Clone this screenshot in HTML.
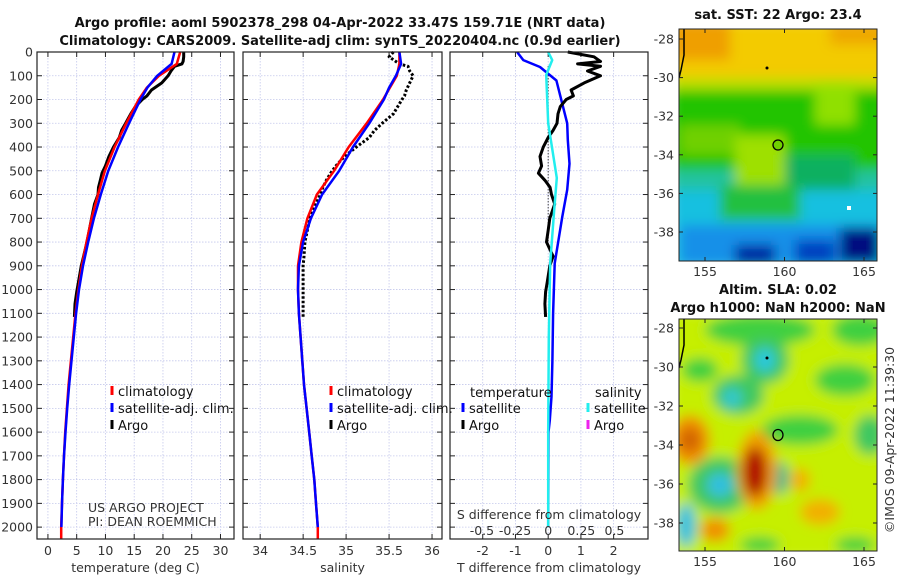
<!DOCTYPE html>
<html><head><meta charset="utf-8"><style>
html,body{margin:0;padding:0;background:#fff;}
svg{display:block;font-family:"DejaVu Sans","Liberation Sans",sans-serif;}
.tk{font-size:12.5px;fill:#333;}
.tt{font-size:13px;font-weight:bold;fill:#111;}
.lg{font-size:13px;fill:#111;}
</style></head><body>
<svg id="fig" width="900" height="580" viewBox="0 0 900 580">
<defs>
<filter id="blur6" x="-20%" y="-20%" width="140%" height="140%"><feGaussianBlur stdDeviation="6"/></filter>
<clipPath id="clipTop"><rect x="679" y="29" width="198" height="232"/></clipPath>
<clipPath id="clipBot"><rect x="679" y="319" width="198" height="232"/></clipPath>
</defs>
<text class="tt" x="340" y="27" text-anchor="middle">Argo profile: aoml 5902378_298 04-Apr-2022 33.47S 159.71E (NRT data)</text>
<text class="tt" x="340" y="45" text-anchor="middle">Climatology: CARS2009. Satellite-adj clim: synTS_20220404.nc (0.9d earlier)</text>
<g id="panels"></g>

<!-- SST map -->
<g>
<g clip-path="url(#clipTop)">
<g filter="url(#blur6)">
<rect x="670" y="20" width="220" height="250" fill="#22c3a0"/>
<rect x="670" y="20" width="220" height="62" fill="#f3cb00"/>
<rect x="670" y="20" width="60" height="40" fill="#ef9f00"/>
<rect x="830" y="20" width="60" height="25" fill="#efa800"/>
<rect x="670" y="78" width="220" height="18" fill="#b8e000"/>
<rect x="670" y="90" width="220" height="80" fill="#22c400"/>
<rect x="815" y="85" width="40" height="40" fill="#90e000"/>
<rect x="680" y="125" width="60" height="30" fill="#70d000"/>
<rect x="735" y="135" width="50" height="70" fill="#9ee000"/>
<rect x="785" y="155" width="70" height="35" fill="#10b060"/>
<rect x="670" y="190" width="220" height="80" fill="#18c0e0"/>
<rect x="720" y="185" width="80" height="35" fill="#20c040"/>
<rect x="680" y="225" width="200" height="40" fill="#1490e8"/>
<rect x="735" y="245" width="40" height="20" fill="#001aa0"/>
<rect x="840" y="228" width="40" height="35" fill="#000a80"/>
<rect x="795" y="240" width="40" height="25" fill="#0040c0"/>
</g>
<rect x="847" y="206" width="4" height="4" fill="#fff"/>
<path d="M684,29 L684,55 L681,70 L679,78" fill="none" stroke="#000" stroke-width="1.5"/>
</g>
<rect x="679" y="29" width="198" height="232" fill="none" stroke="#222" stroke-width="1"/>
<circle cx="778" cy="145" r="5" fill="#70d000" stroke="#000" stroke-width="1.3"/>
<circle cx="767" cy="68" r="1.5" fill="#000"/>
</g>
<text class="tt" x="778" y="19" text-anchor="middle">sat. SST: 22 Argo: 23.4</text>

<!-- SLA map -->
<g>
<g clip-path="url(#clipBot)">
<g filter="url(#blur6)">
<rect x="670" y="310" width="220" height="250" fill="#c6ef00"/>
<ellipse cx="760" cy="330" rx="55" ry="16" fill="#40d040"/>
<ellipse cx="860" cy="330" rx="28" ry="16" fill="#40d040"/>
<ellipse cx="700" cy="370" rx="18" ry="12" fill="#40d040"/>
<ellipse cx="765" cy="360" rx="24" ry="24" fill="#40c860"/>
<ellipse cx="765" cy="360" rx="10" ry="12" fill="#28c8e0"/>
<ellipse cx="738" cy="395" rx="26" ry="20" fill="#40c860"/>
<ellipse cx="732" cy="398" rx="10" ry="10" fill="#30c8d0"/>
<ellipse cx="845" cy="380" rx="30" ry="16" fill="#40d040"/>
<ellipse cx="800" cy="430" rx="38" ry="15" fill="#40d040"/>
<ellipse cx="870" cy="435" rx="16" ry="20" fill="#40c860"/>
<ellipse cx="720" cy="485" rx="32" ry="28" fill="#40c860"/>
<ellipse cx="720" cy="485" rx="13" ry="12" fill="#30c0e0"/>
<ellipse cx="686" cy="525" rx="10" ry="22" fill="#30c0e0"/>
<ellipse cx="780" cy="478" rx="9" ry="16" fill="#30b890"/>
<ellipse cx="760" cy="545" rx="20" ry="8" fill="#40d040"/>
<ellipse cx="855" cy="545" rx="20" ry="8" fill="#40d040"/>
<ellipse cx="690" cy="440" rx="20" ry="25" fill="#f09000"/>
<ellipse cx="690" cy="440" rx="10" ry="12" fill="#d06000"/>
<ellipse cx="757" cy="470" rx="20" ry="40" fill="#f0a000"/>
<ellipse cx="755" cy="472" rx="12" ry="25" fill="#b00000"/>
<ellipse cx="715" cy="530" rx="15" ry="12" fill="#f09000"/>
<ellipse cx="820" cy="512" rx="20" ry="13" fill="#f2b000"/>
<ellipse cx="800" cy="480" rx="10" ry="12" fill="#f2b000"/>
</g>
<path d="M684,319 L684,345 L681,360 L679,368" fill="none" stroke="#000" stroke-width="1.5"/>
</g>
<rect x="679" y="319" width="198" height="232" fill="none" stroke="#222" stroke-width="1"/>
<ellipse cx="778" cy="435" rx="5" ry="5.5" fill="none" stroke="#000" stroke-width="1.3"/>
<circle cx="767" cy="358" r="1.5" fill="#000"/>
</g>
<text class="tt" x="778" y="294" text-anchor="middle">Altim. SLA: 0.02</text>
<text class="tt" x="778" y="312" text-anchor="middle">Argo h1000: NaN h2000: NaN</text>
<text class="tk" transform="translate(894,440) rotate(-90)" text-anchor="middle" font-size="13">©IMOS 09-Apr-2022 11:39:30</text>
<g id="mapaxes"></g>
</svg>
<script>
// ---- data ----
const depthTicks = [0,100,200,300,400,500,600,700,800,900,1000,1100,1200,1300,1400,1500,1600,1700,1800,1900,2000];
const tempTicks = [0,5,10,15,20,25,30];
const salTicks = [34,34.5,35,35.5,36];
const tdiffTicks = [-2,-1,0,1,2];
const sdiffTicks = [-0.5,-0.25,0,0.25,0.5];
const sdiffTickLabels = ["-0.5","-0.25","0","0.25","0.5"];

const climDepth = [0,50,100,150,200,300,400,500,600,700,800,900,1000,1100,1200,1300,1400,1500,1600,1700,1800,1900,2000,2050];
const climTemp = [23,22.4,19.3,17.2,15.8,13.6,11.6,9.9,8.7,7.6,6.7,5.9,5.3,4.8,4.4,4.0,3.6,3.3,3.0,2.8,2.6,2.45,2.3,2.3];
const satTemp = [22,21.5,19.0,17.3,16.1,14.1,12.2,10.5,9.2,8.0,7.0,6.1,5.4,4.9,4.5,4.1,3.7,3.35,3.05,2.8,2.6,2.45,2.35,2.35];
const climSal = [35.62,35.62,35.59,35.51,35.43,35.24,35.03,34.86,34.66,34.55,34.48,34.44,34.44,34.45,34.47,34.49,34.51,34.54,34.57,34.6,34.63,34.65,34.67,34.67];
const satSal = [35.62,35.64,35.58,35.5,35.44,35.27,35.08,34.92,34.72,34.59,34.5,34.45,34.44,34.45,34.47,34.49,34.51,34.54,34.57,34.6,34.63,34.65,34.67,34.67];

const argoDepth = [0,20,40,50,60,80,100,130,160,185,200,230,260,300,330,360,400,440,480,510,540,570,600,640,700,750,800,860,900,970,1010,1060,1115];
const argoTemp = [23.6,23.6,23.5,23.3,22.0,21.4,20.9,19.8,18.0,17.2,16.4,15.2,14.4,13.5,12.8,12.4,11.4,10.6,10.0,9.4,9.1,8.8,8.7,8.1,7.6,7.2,6.8,6.2,5.8,5.3,5.0,4.7,4.6];
const argoSal = [35.55,35.5,35.58,35.62,35.72,35.74,35.78,35.74,35.7,35.68,35.65,35.6,35.55,35.42,35.33,35.27,35.12,34.98,34.88,34.82,34.77,34.73,34.7,34.65,34.58,34.55,34.52,34.51,34.5,34.5,34.5,34.5,34.5];
const argoTDiff = [0.6,1.4,1.6,0.9,1.6,1.2,1.6,1.1,0.7,0.77,0.55,0.37,0.3,0.27,0.15,0.0,-0.15,-0.25,-0.2,-0.3,-0.1,0.06,0.1,0.2,0.05,0.0,-0.05,0.15,0.05,-0.03,-0.08,-0.1,-0.08];
const satTDiffDepth = [0,34,63,120,185,300,370,470,580,693,890,1100,1300,1450,1550,1600,2000];
const satTDiff = [-0.95,-0.76,-0.25,0.25,0.37,0.58,0.6,0.65,0.58,0.43,0.2,0.15,0.13,0.1,0.05,0.01,0.0];
const satSDiffDepth = [0,34,97,300,530,670,890,1200,1600,2000];
const satSDiff = [0,0.03,-0.015,0.0,0.065,0.045,0.015,0.005,0.0,0.0];

const mapLonTicks = [155,160,165];
const mapLatTicks = [-28,-30,-32,-34,-36,-38];

// ---- axes ----
const NS='http://www.w3.org/2000/svg';
const Y0=52, Y1=539, DMAX=2050;
function yD(d){return Y0+(d/DMAX)*(Y1-Y0);}
function mk(tag,attrs,parent){const e=document.createElementNS(NS,tag);for(const k in attrs)e.setAttribute(k,attrs[k]);parent.appendChild(e);return e;}
const root=document.getElementById('panels');

const panels=[
 {name:'temperature-panel',x0:37,x1:234,v0:-1.9,v1:32.35,ticks:tempTicks,label:'temperature (deg C)'},
 {name:'salinity-panel',x0:243,x1:442,v0:33.8,v1:36.116,ticks:salTicks,label:'salinity'},
 {name:'difference-panel',x0:450,x1:648,v0:-3,v1:3.05,ticks:tdiffTicks,label:'T difference from climatology'}
];
function xf(p){return v=>p.x0+(v-p.v0)/(p.v1-p.v0)*(p.x1-p.x0);}
function line(p,vals,depths,color,w,name,dash){
  const f=xf(p);let d='';
  for(let i=0;i<vals.length;i++){d+=(i?'L':'M')+f(vals[i]).toFixed(1)+','+yD(depths[i]).toFixed(1);}
  const e=mk('path',{d:d,fill:'none',stroke:color,'stroke-width':w,'stroke-linejoin':'round'},p.g);
  if(dash)e.setAttribute('stroke-dasharray',dash);
  
  
  return e;
}
panels.forEach((p,pi)=>{
  const g=mk('g',{},root);p.g=g;
  
  
  const f=xf(p);
  depthTicks.forEach(d=>{
    const y=yD(d);
    const gl=mk('line',{x1:p.x0,x2:p.x1,y1:y,y2:y,stroke:'#c4c8ec','stroke-width':0.8,'stroke-dasharray':'1.5,1.5'},g);
    
    
    mk('line',{x1:p.x0,x2:p.x0+5,y1:y,y2:y,stroke:'#222'},g);
    mk('line',{x1:p.x1,x2:p.x1-5,y1:y,y2:y,stroke:'#222'},g);
    if(pi===0){const t=mk('text',{x:p.x0-4,y:y+4.5,'text-anchor':'end',class:'tk'},g);t.textContent=d;
      
      }
  });
  p.ticks.forEach(v=>{
    const x=f(v);
    const gl=mk('line',{x1:x,x2:x,y1:Y0,y2:Y1,stroke:'#c4c8ec','stroke-width':0.8,'stroke-dasharray':'1.5,1.5'},g);
    
    
    mk('line',{x1:x,x2:x,y1:Y1,y2:Y1-5,stroke:'#222'},g);
    mk('line',{x1:x,x2:x,y1:Y0,y2:Y0+5,stroke:'#222'},g);
    const t=mk('text',{x:x,y:555,'text-anchor':'middle',class:'tk'},g);t.textContent=v;
    
    
  });
  const lt=mk('text',{x:(p.x0+p.x1)/2,y:572,'text-anchor':'middle',class:'tk','font-size':'13.5'},g);lt.textContent=p.label;
  
  
});
const P0=panels[0],P1=panels[1],P2=panels[2];
line(P0,argoTemp,argoDepth,'#000',3,'argo-temperature-line');
line(P0,climTemp,climDepth,'#ff0000',2.5,'climatology-temperature-line');
line(P0,satTemp.slice(0,23),climDepth.slice(0,23),'#0000ff',2.5,'satellite-temperature-line');
line(P1,argoSal,argoDepth,'#000',3,'argo-salinity-line','2.5,2');
line(P1,climSal,climDepth,'#ff0000',2.5,'climatology-salinity-line');
line(P1,satSal.slice(0,23),climDepth.slice(0,23),'#0000ff',2.5,'satellite-salinity-line');
(function(){const f=xf(P2);const z=mk('line',{x1:f(0),x2:f(0),y1:yD(60),y2:yD(800),stroke:'#000','stroke-width':1,'stroke-dasharray':'1,2'},P2.g);
  
  })();
line(P2,satTDiff,satTDiffDepth,'#0000ff',2.5,'satellite-temperature-difference-line');
line(P2,argoTDiff,argoDepth,'#000',3,'argo-temperature-difference-line');
line(P2,satSDiff.map(v=>v*4.05),satSDiffDepth,'#22eeee',2.5,'satellite-salinity-difference-line');
(function(){const f=xf(P2);
  sdiffTicks.forEach((v,i)=>{const t=mk('text',{x:f(v*4.05),y:535,'text-anchor':'middle',class:'tk'},P2.g);t.textContent=sdiffTickLabels[i];
    
    });
  const t=mk('text',{x:549,y:519,'text-anchor':'middle',class:'tk','font-size':'13.5'},P2.g);t.textContent='S difference from climatology';
  
  
})();
panels.forEach(p=>{const r=mk('rect',{x:p.x0,y:Y0,width:p.x1-p.x0,height:Y1-Y0,fill:'none',stroke:'#222','stroke-width':1.2},p.g);
  
  });
function legend(g,x,y,color,label){
  const m=mk('rect',{x:x-1.5,y:y-6,width:3,height:9,fill:color},g);
  
  
  const t=mk('text',{x:x+6,y:y+4,class:'lg'},g);t.textContent=label;
  
  
}
[[P0,112],[P1,331]].forEach(([p,x])=>{
  legend(p.g,x,392,'#ff0000','climatology');
  legend(p.g,x,409,'#0000ff','satellite-adj. clim.');
  legend(p.g,x,426,'#000','Argo');
});
(function(){const g=P2.g;
  const t1=mk('text',{x:470,y:397,class:'lg'},g);t1.textContent='temperature';
  
  
  const t2=mk('text',{x:595,y:397,class:'lg'},g);t2.textContent='salinity';
  
  
  legend(g,463,409,'#0000ff','satellite');
  legend(g,463,426,'#000','Argo');
  legend(g,588,409,'#22eeee','satellite');
  legend(g,588,426,'#ee22ee','Argo');
})();
(function(){const t=mk('text',{x:88,y:512,class:'tk','font-size':'11.5','fill':'#111'},P0.g);t.textContent='US ARGO PROJECT';
  
  
  const t2=mk('text',{x:88,y:526,class:'tk','font-size':'11.5','fill':'#111'},P0.g);t2.textContent='PI: DEAN ROEMMICH';
  
  })();
const ma=document.getElementById('mapaxes');
[{top:29,ly0:39,ly1:232,lab:276},{top:319,ly0:328,ly1:523,lab:566}].forEach(m=>{
  const lonX=v=>705+(v-155)*(864-705)/10;
  const latY=v=>m.ly0+(v-(-28))/(-10)*(m.ly1-m.ly0);
  mapLonTicks.forEach(v=>{const x=lonX(v);
    mk('line',{x1:x,x2:x,y1:m.top+232,y2:m.top+228,stroke:'#222'},ma);
    mk('line',{x1:x,x2:x,y1:m.top,y2:m.top+4,stroke:'#222'},ma);
    const t=mk('text',{x:x,y:m.lab,'text-anchor':'middle',class:'tk'},ma);t.textContent=v;
    
    });
  mapLatTicks.forEach(v=>{const y=latY(v);
    mk('line',{x1:877,x2:873,y1:y,y2:y,stroke:'#222'},ma);
    mk('line',{x1:679,x2:683,y1:y,y2:y,stroke:'#222'},ma);
    const t=mk('text',{x:674,y:y+4.5,'text-anchor':'end',class:'tk'},ma);t.textContent=v;
    
    });
});
</script>
</body></html>
